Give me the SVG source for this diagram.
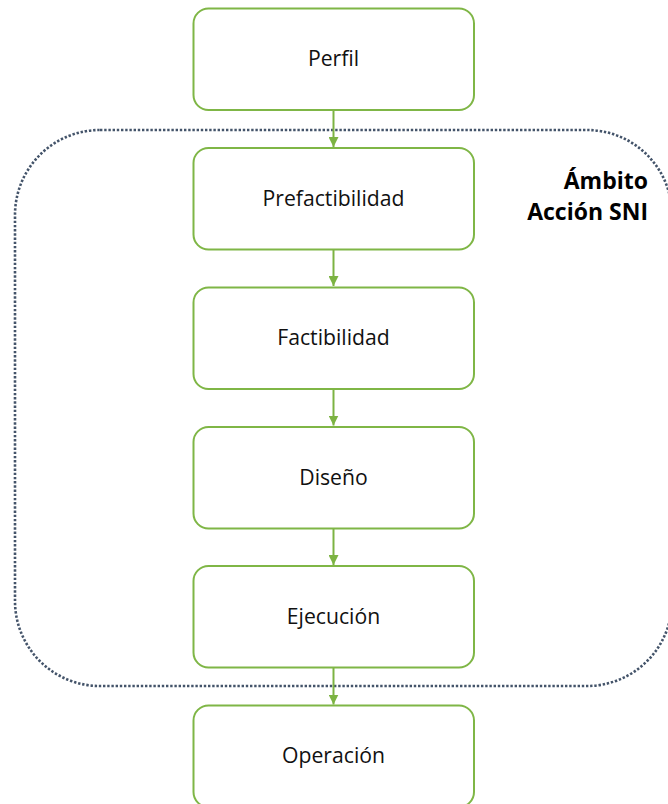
<svg xmlns="http://www.w3.org/2000/svg" width="668" height="804" viewBox="0 0 668 804">
  <defs>
    <marker id="arrow" viewBox="0 0 10 10" refX="10" refY="5" markerWidth="10" markerHeight="10" markerUnits="userSpaceOnUse" orient="auto">
      <path d="M0,0 L10,5 L0,10 Z" fill="#7cb342"/>
    </marker>
    <style>
      .box { fill: #ffffff; stroke: #7fb646; stroke-width: 2; }
      .lbl { font-family: "Open Sans", "Noto Sans", sans-serif; font-size: 21.2px; fill: #111111; text-anchor: middle; }
      .scope { fill: none; stroke: #44546a; stroke-width: 2.6; stroke-dasharray: 2.4 1.8; }
      .scope-lbl { font-family: "Open Sans", "Noto Sans", sans-serif; font-size: 23px; font-weight: bold; fill: #000000; text-anchor: end; }
      .conn { stroke: #7cb342; stroke-width: 2; fill: none; }
    </style>
  </defs>
  <rect width="668" height="804" fill="#ffffff"/>

  <!-- SNI action scope boundary -->
  <g id="scope">
    <rect class="scope" x="15" y="130" width="657" height="556" rx="85" ry="85"/>
    <text class="scope-lbl" x="648" y="189">Ámbito</text>
    <text class="scope-lbl" x="648" y="220">Acción SNI</text>
  </g>

  <!-- connectors -->
  <g id="connectors">
    <line class="conn" x1="333.5" y1="110" x2="333.5" y2="147" marker-end="url(#arrow)"/>
    <line class="conn" x1="333.5" y1="249" x2="333.5" y2="286" marker-end="url(#arrow)"/>
    <line class="conn" x1="333.5" y1="388.5" x2="333.5" y2="425.5" marker-end="url(#arrow)"/>
    <line class="conn" x1="333.5" y1="528" x2="333.5" y2="565" marker-end="url(#arrow)"/>
    <line class="conn" x1="333.5" y1="667.5" x2="333.5" y2="704.5" marker-end="url(#arrow)"/>
  </g>

  <g id="perfil">
    <rect class="box" x="193.5" y="8.5" width="280.5" height="101.5" rx="15"/>
    <text class="lbl" x="333.5" y="66">Perfil</text>
  </g>
  <g id="prefactibilidad">
    <rect class="box" x="193.5" y="148" width="280.5" height="101.5" rx="15"/>
    <text class="lbl" x="333.5" y="205.5">Prefactibilidad</text>
  </g>
  <g id="factibilidad">
    <rect class="box" x="193.5" y="287.5" width="280.5" height="101.5" rx="15"/>
    <text class="lbl" x="333.5" y="345">Factibilidad</text>
  </g>
  <g id="diseno">
    <rect class="box" x="193.5" y="427" width="280.5" height="101.5" rx="15"/>
    <text class="lbl" x="333.5" y="484.5">Diseño</text>
  </g>
  <g id="ejecucion">
    <rect class="box" x="193.5" y="566" width="280.5" height="101.5" rx="15"/>
    <text class="lbl" x="333.5" y="623.5">Ejecución</text>
  </g>
  <g id="operacion">
    <rect class="box" x="193.5" y="705.5" width="280.5" height="101.5" rx="15"/>
    <text class="lbl" x="333.5" y="763">Operación</text>
  </g>
</svg>
